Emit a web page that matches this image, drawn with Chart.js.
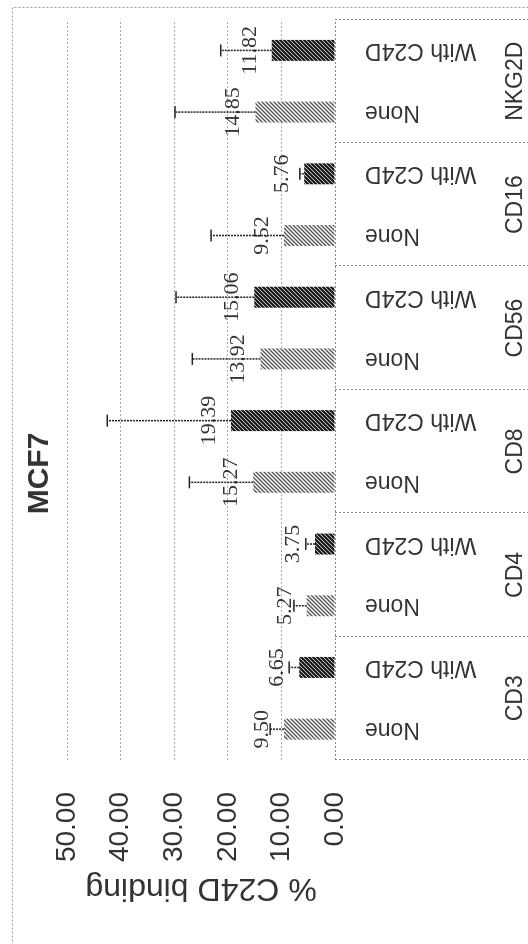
<!DOCTYPE html>
<html>
<head>
<meta charset="utf-8">
<script src="https://cdn.jsdelivr.net/npm/chart.js@4"></script>
<style>
  html,body{margin:0;padding:0;background:#fff;overflow:hidden;}
  /* la figura original está girada 90° */
  #giro{position:absolute;left:0;top:0;width:944px;height:528px;transform-origin:0 0;transform:translate(0,944px) rotate(-90deg);}
</style>
</head>
<body>
<div id="giro"><canvas id="grafica" width="944" height="528"></canvas></div>
<script>
// datos
const grupos    = ['CD3','CD4','CD8','CD56','CD16','NKG2D'];
const etiquetas = ['None','With C24D','None','With C24D','None','With C24D','None','With C24D','None','With C24D','None','With C24D'];
const valores   = [9.50, 6.65, 5.27, 3.75, 15.27, 19.39, 13.92, 15.06, 9.52, 5.76, 14.85, 11.82];
const errores   = [2.6, 1.9, 2.4, 1.7, 11.9, 23.1, 12.7, 14.6, 13.6, 0.8, 15.0, 9.5];
const ticksY    = [0, 10, 20, 30, 40, 50];

const el = document.getElementById('grafica');
const ctx = el.getContext('2d');

// rayado de las barras
function trama(fondo, raya, grosor, paso){
  const c = document.createElement('canvas');
  c.width = c.height = paso;
  const g = c.getContext('2d');
  g.fillStyle = fondo; g.fillRect(0,0,paso,paso);
  g.strokeStyle = raya; g.lineWidth = grosor;
  g.beginPath();
  g.moveTo(-1, paso+1); g.lineTo(paso+1, -1);
  g.moveTo(-1, 1); g.lineTo(1, -1);
  g.moveTo(paso-1, paso+1); g.lineTo(paso+1, paso-1);
  g.stroke();
  return ctx.createPattern(c, 'repeat');
}
const claro  = trama('#fff', '#555', 1.4, 4);
const oscuro = trama('#fff', '#111', 2.2, 4);

const punteado = '#888';

const extras = {
  id:'extras',
  beforeDraw(chart){
    const c = chart.ctx;
    c.save();
    c.setLineDash([2,2]); c.strokeStyle = '#999'; c.lineWidth = 1;
    c.strokeRect(-5.5, 12.5, 942, 600);
    c.restore();
  },
  afterDatasetsDraw(chart){
    const c = chart.ctx, y = chart.scales.y, x = chart.scales.x;
    const meta = chart.getDatasetMeta(0);
    c.save();
    // barras de error y valores
    meta.data.forEach((bar, i) => {
      const v = valores[i], e = errores[i];
      const yTop = y.getPixelForValue(v + e);
      c.font = '22px "Liberation Serif"'; c.fillStyle = '#333';
      c.textAlign = 'center'; c.textBaseline = 'alphabetic';
      c.fillText(v.toFixed(2), bar.x, bar.y - 16);
      c.strokeStyle = '#222'; c.lineWidth = 1.5; c.setLineDash([2,1]);
      c.beginPath(); c.moveTo(bar.x, bar.y); c.lineTo(bar.x, yTop); c.stroke();
      c.setLineDash([]);
      c.beginPath(); c.moveTo(bar.x - 6, yTop); c.lineTo(bar.x + 6, yTop); c.stroke();
    });
    // eje de categorías y cajas de grupos
    const y0 = y.getPixelForValue(0);
    c.setLineDash([2,2]); c.strokeStyle = punteado; c.lineWidth = 1;
    c.beginPath(); c.moveTo(x.left, y0 + .5); c.lineTo(x.right, y0 + .5); c.stroke();
    const ancho = x.getPixelForValue(1) - x.getPixelForValue(0);
    c.font = '23px "Liberation Sans"'; c.fillStyle = '#333';
    c.textAlign = 'center'; c.textBaseline = 'middle';
    grupos.forEach((g, k) => {
      const a = x.getPixelForValue(2*k) - ancho/2;
      const b = x.getPixelForValue(2*k+1) + ancho/2;
      c.beginPath();
      c.moveTo(Math.round(a)+.5, y0); c.lineTo(Math.round(a)+.5, chart.height);
      c.moveTo(Math.round(b)+.5, y0); c.lineTo(Math.round(b)+.5, chart.height);
      c.stroke();
      c.fillText(g, (a+b)/2, 516);
    });
    c.restore();
  }
};

new Chart(ctx, {
  type:'bar',
  data:{ labels: etiquetas, datasets:[{ data: valores,
    backgroundColor: etiquetas.map(e => e === 'None' ? claro : oscuro),
    borderWidth:0, barPercentage:.34, categoryPercentage:1 }]},
  options:{
    responsive:false, animation:false, devicePixelRatio:1,
    layout:{ padding:{ top:12, left:16, right:19, bottom:0 } },
    plugins:{
      legend:{ display:false }, tooltip:{ enabled:false },
      title:{ display:true, text:'MCF7', color:'#333', font:{ family:'Liberation Sans', size:30, weight:'bold' }, padding:{ top:10, bottom:9 } }
    },
    scales:{
      x:{ grid:{ display:false }, border:{ display:false },
          ticks:{ autoSkip:false, minRotation:90, maxRotation:90, padding:22, color:'#333', font:{ family:'Liberation Sans', size:23 } },
          afterFit: s => { s.height = 193; } },
      y:{ min: ticksY[0], max: ticksY[ticksY.length-1],
          ticks:{ stepSize: ticksY[1]-ticksY[0], padding:32, color:'#333', font:{ family:'Liberation Sans', size:28 }, callback: v => v.toFixed(2) },
          grid:{ drawTicks:false, color: c => c.tick && c.tick.value === 0 ? 'rgba(0,0,0,0)' : '#aaa' },
          border:{ display:false, dash:[2,2] },
          title:{ display:true, text:'% C24D binding', color:'#333', font:{ family:'Liberation Sans', size:32 }, padding:{ top:21, bottom:0 } },
          afterFit: s => { s.width = 168; } }
    }
  },
  plugins:[extras]
});
</script>
</body>
</html>
